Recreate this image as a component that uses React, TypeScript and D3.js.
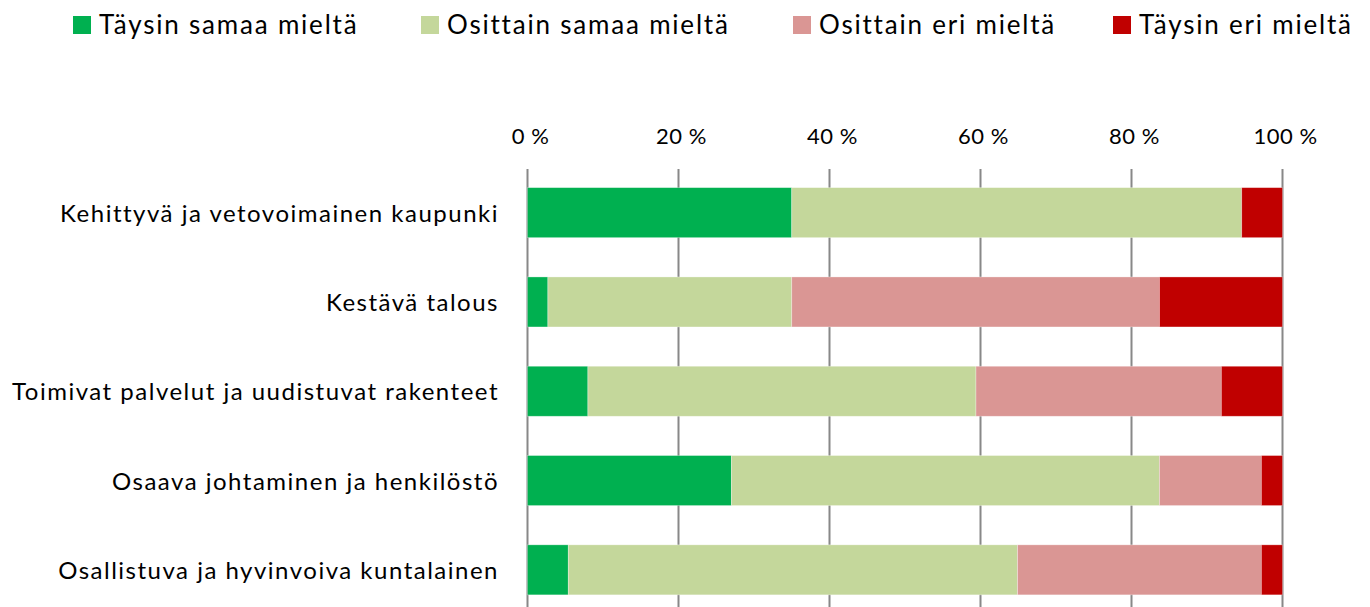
import React, { useEffect, useRef } from 'react'
import * as d3 from 'd3'

const categories = [
  'Kehittyvä ja vetovoimainen kaupunki',
  'Kestävä talous',
  'Toimivat palvelut ja uudistuvat rakenteet',
  'Osaava johtaminen ja henkilöstö',
  'Osallistuva ja hyvinvoiva kuntalainen'
]

const seriesNames = ['Täysin samaa mieltä', 'Osittain samaa mieltä', 'Osittain eri mieltä', 'Täysin eri mieltä']
const seriesColors = ['#00b050', '#c4d79b', '#da9694', '#c00000']

// percentages per category, one array per series
const taysinSamaa = [35.0, 2.7, 8.0, 27.0, 5.4]
const osittainSamaa = [59.6, 32.3, 51.4, 56.7, 59.5]
const osittainEri = [0, 48.7, 32.5, 13.5, 32.3]
const taysinEri = [5.4, 16.3, 8.1, 2.8, 2.8]

const ticks = [0, 20, 40, 60, 80, 100]

const FONT = 'Lato, Carlito, Calibri, sans-serif'

export default function App() {
  const ref = useRef<SVGSVGElement>(null)

  useEffect(() => {
    const svg = d3.select(ref.current)
    svg.selectAll('*').remove()

    const x = d3.scaleLinear().domain([0, 100]).range([527.5, 1282.5])
    const y = d3.scaleBand<string>()
      .domain(categories)
      .range([168, 614.5])
      .paddingInner(0.44)
      .paddingOuter(0.22)

    const rows = categories.map((c, i) => ({
      cat: c,
      vals: [taysinSamaa[i], osittainSamaa[i], osittainEri[i], taysinEri[i]]
    }))

    // gridlines
    svg.append('g')
      .selectAll('line')
      .data(ticks)
      .join('line')
      .attr('x1', d => x(d))
      .attr('x2', d => x(d))
      .attr('y1', 169)
      .attr('y2', 607)
      .attr('stroke', '#888888')
      .attr('stroke-width', 2)

    // bars
    rows.forEach(row => {
      let acc = 0
      row.vals.forEach((v, j) => {
        if (v <= 0) return
        svg.append('rect')
          .attr('x', x(acc))
          .attr('y', y(row.cat)!)
          .attr('width', x(acc + v) - x(acc))
          .attr('height', y.bandwidth())
          .attr('fill', seriesColors[j])
          .attr('stroke', '#ffffff')
          .attr('stroke-opacity', 0.4)
          .attr('stroke-width', 0.75)
        acc += v
      })
    })

    // tick labels
    svg.append('g')
      .selectAll('text')
      .data(ticks)
      .join('text')
      .attr('x', d => x(d) + 3)
      .attr('y', 143.5)
      .attr('text-anchor', 'middle')
      .attr('letter-spacing', 0.5)
      .style('font-family', FONT)
      .style('font-size', '22px')
      .attr('fill', '#000')
      .text(d => d + ' %')

    // category labels
    svg.append('g')
      .selectAll('text')
      .data(categories)
      .join('text')
      .attr('x', 499)
      .attr('y', d => y(d)! + y.bandwidth() / 2 + 9)
      .attr('text-anchor', 'end')
      .attr('letter-spacing', 1.5)
      .style('font-family', FONT)
      .style('font-size', '24px')
      .attr('fill', '#000')
      .text(d => d)

    // legend
    const legendX = [73, 421, 793, 1113]
    const legend = svg.append('g')
    seriesNames.forEach((name, i) => {
      legend.append('rect')
        .attr('x', legendX[i])
        .attr('y', 16)
        .attr('width', 18)
        .attr('height', 18)
        .attr('fill', seriesColors[i])
      legend.append('text')
        .attr('x', legendX[i] + 26)
        .attr('y', 34)
        .attr('letter-spacing', 1.8)
        .style('font-family', FONT)
        .style('font-size', '26px')
        .attr('fill', '#000')
        .text(name)
    })
  }, [])

  return (
    <svg
      ref={ref}
      width={1370}
      height={607}
      style={{ position: 'absolute', left: 0, top: 0, background: '#fff' }}
    />
  )
}
